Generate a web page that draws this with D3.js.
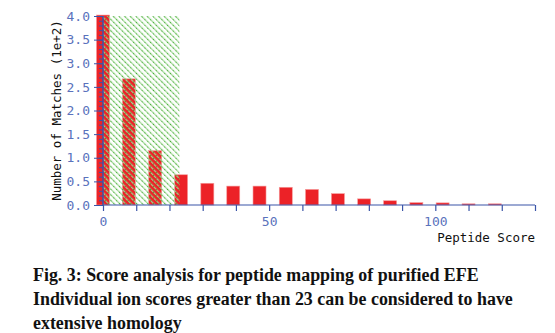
<!DOCTYPE html>
<html><head><meta charset="utf-8">
<script src="https://cdn.jsdelivr.net/npm/d3@7"></script>
<style>body{margin:0;background:#fff}svg{display:block}</style>
</head><body>
<svg id="c" width="555" height="333"></svg>
<script>
// Data (matches counts in units of 1e+2)
const scoreBins = [0, 7.8, 15.7, 23.5, 31.4, 39.2, 47.1, 55, 62.9, 70.7, 78.6, 86.4, 94.3, 102.2, 110, 117.9];
const matches = [4.02, 2.67, 1.15, 0.64, 0.46, 0.40, 0.40, 0.375, 0.33, 0.24, 0.13, 0.09, 0.05, 0.045, 0.025, 0.025];
const threshold = 23;
const yTicks = [0, 0.5, 1.0, 1.5, 2.0, 2.5, 3.0, 3.5, 4.0];
const xTicks = [0,10,20,30,40,50,60,70,80,90,100,110,120,130];
const xLabels = [0, 50, 100];
const captionLines = [
  "Fig. 3: Score analysis for peptide mapping of purified EFE",
  "Individual ion scores greater than 23 can be considered to have",
  "extensive homology"
];

const svg = d3.select("#c");
const x = d3.scaleLinear().domain([0,130]).range([103,535]);
const y = d3.scaleLinear().domain([0,4]).range([205,16]);
const blue = "#3a55a8", lblue = "#5a72bc", mono = "'DejaVu Sans Mono', monospace";

const defs = svg.append("defs");
const pat = defs.append("pattern").attr("id","hatch").attr("patternUnits","userSpaceOnUse")
  .attr("width",4).attr("height",4).attr("patternTransform","rotate(-45)");
pat.append("line").attr("x1",0.5).attr("y1",0).attr("x2",0.5).attr("y2",4).attr("stroke","#9ed692").attr("stroke-width",1.5);
pat.append("line").attr("x1",0.5).attr("y1",0).attr("x2",0.5).attr("y2",4).attr("stroke","#3aa82a").attr("stroke-width",1).attr("stroke-dasharray","1,3");

const bw = 13;
svg.append("g").selectAll("rect").data(scoreBins).join("rect")
  .attr("x", (d)=>x(d)-bw/2).attr("width", bw)
  .attr("y", (d,i)=>y(matches[i])).attr("height",(d,i)=>y(0)-y(matches[i]))
  .attr("fill","#ec2227").attr("stroke","#f59a9a").attr("stroke-width",0.6);

svg.append("rect").attr("x",x(0)).attr("y",y(4)).attr("width",x(threshold)-x(0)).attr("height",y(0)-y(4))
  .attr("fill","url(#hatch)");

// y axis
const ya = svg.append("g").attr("transform",`translate(${x(0)},0)`);
ya.call(d3.axisLeft(y).tickValues(d3.range(0,41).map(d=>d/10)).tickSize(4).tickFormat(""));
ya.append("g").call(d3.axisLeft(y).tickValues(yTicks).tickSize(9).tickFormat(d3.format(".1f")));
ya.selectAll("path").remove();
ya.selectAll("line").attr("stroke",blue);
ya.selectAll("text").attr("fill",lblue).attr("font-family",mono).attr("font-size",13).attr("dx",-1);
svg.append("line").attr("x1",x(0)).attr("x2",x(0)).attr("y1",y(0)).attr("y2",y(4)).attr("stroke",blue).attr("stroke-width",1.5);

// x axis
const xa = svg.append("g").attr("transform",`translate(0,${y(0)})`);
xa.call(d3.axisBottom(x).tickValues(xTicks).tickSize(6).tickFormat(d=>xLabels.includes(d)?d:""));
xa.select("path").attr("stroke",blue).attr("stroke-width",1.2).attr("d",`M${x(0)},0H${x(130)}`);
xa.selectAll("line").attr("stroke",blue).attr("stroke-width",1.2);
xa.selectAll("text").attr("fill",lblue).attr("font-family",mono).attr("font-size",13).attr("dy","0.95em");

svg.append("text").attr("x",x(130)).attr("y",242).attr("text-anchor","end")
  .attr("font-family",mono).attr("font-size",12.5).attr("fill","#111").text("Peptide Score");
svg.append("text").attr("transform",`translate(61,${(y(0)+y(4))/2}) rotate(-90)`).attr("text-anchor","middle")
  .attr("font-family",mono).attr("font-size",12.5).attr("fill","#111").text("Number of Matches (1e+2)");

svg.append("g").selectAll("text").data(captionLines).join("text")
  .attr("x",33).attr("y",(d,i)=>281+i*24)
  .attr("font-family","'Liberation Serif','Times New Roman',serif").attr("font-weight","bold")
  .attr("font-size",17.9).attr("fill","#111").text(d=>d);
</script>
</body></html>
